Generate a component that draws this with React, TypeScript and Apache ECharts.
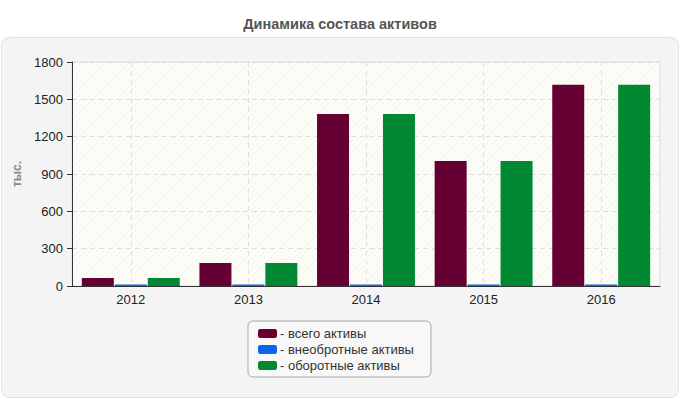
import React, { useEffect, useRef } from "react";
import * as echarts from "echarts";

const years = ["2012", "2013", "2014", "2015", "2016"];
const seriesNames = ["всего активы", "внеобротные активы", "оборотные активы"];
const totalAssets = [65, 185, 1382, 1005, 1617];
const fixedAssets = [12, 12, 12, 12, 12];
const currentAssets = [65, 185, 1382, 1005, 1617];
const colors = ["#660033", "#0a66f0", "#008833"];

function makeHatch(): string {
  const c = document.createElement("canvas");
  c.width = 6;
  c.height = 6;
  const ctx = c.getContext("2d");
  if (ctx) {
    ctx.fillStyle = "#fdfdf7";
    ctx.fillRect(0, 0, 6, 6);
    ctx.strokeStyle = "rgba(200,200,190,0.22)";
    ctx.lineWidth = 1;
    ctx.beginPath();
    ctx.moveTo(0, 6);
    ctx.lineTo(6, 0);
    ctx.moveTo(-3, 3);
    ctx.lineTo(3, -3);
    ctx.moveTo(3, 9);
    ctx.lineTo(9, 3);
    ctx.stroke();
  }
  return c.toDataURL();
}

export default function App() {
  const ref = useRef<HTMLDivElement>(null);
  useEffect(() => {
    if (!ref.current) return;
    const chart = echarts.init(ref.current, undefined, { renderer: "svg" });
    const hatch = makeHatch();
    const font = "Liberation Sans, Arial, sans-serif";
    const data = [totalAssets, fixedAssets, currentAssets];
    chart.setOption({
      animation: false,
      textStyle: { fontFamily: font },
      title: {
        text: "Динамика состава активов",
        left: "center",
        top: 11,
        textStyle: { fontSize: 14.5, fontWeight: "bold", color: "#555", fontFamily: font },
      },
      graphic: [
        {
          type: "rect",
          z: -20,
          shape: { x: 1.5, y: 37.5, width: 677, height: 360, r: 8 },
          style: { fill: "#f4f4f4", stroke: "#e2e2e2", lineWidth: 1 },
          silent: true,
        },
        {
          type: "rect",
          z: -10,
          shape: { x: 72, y: 62, width: 588, height: 224 },
          style: { fill: { image: hatch, repeat: "repeat" } as any },
          silent: true,
        },
      ],
      grid: {
        left: 72,
        right: 20,
        top: 62,
        bottom: 114,
        show: true,
        borderColor: "#dddddd",
        borderWidth: 1,
        backgroundColor: "transparent",
      },
      legend: {
        orient: "vertical",
        left: 248,
        top: 321,
        padding: [6, 17, 5, 10],
        itemGap: 3,
        itemWidth: 19,
        itemHeight: 9,
        icon: "roundRect",
        backgroundColor: "#f8f8f8",
        borderColor: "#a8a8a8",
        borderWidth: 1,
        borderRadius: 5,
        formatter: (n: string) => "- " + n,
        textStyle: { fontSize: 13, color: "#333", fontFamily: font, padding: [0, 0, 0, -2] },
        data: seriesNames,
      },
      xAxis: {
        type: "category",
        data: years,
        axisLine: { lineStyle: { color: "#333" } },
        axisTick: { alignWithLabel: true, lineStyle: { color: "#333" }, length: 5 },
        axisLabel: { color: "#222", fontSize: 13, margin: 7, fontFamily: font },
        splitLine: {
          show: true,
          alignWithLabel: true,
          lineStyle: { color: "#dddddd", type: [5, 4] },
        } as any,
      },
      yAxis: {
        type: "value",
        min: 0,
        max: 1800,
        interval: 300,
        name: "тыс.",
        nameLocation: "middle",
        nameGap: 46,
        nameTextStyle: { color: "#888", fontSize: 12, fontWeight: "bold", fontFamily: font },
        axisLine: { show: true, lineStyle: { color: "#333" } },
        axisTick: { show: true, length: 5, lineStyle: { color: "#333" } },
        axisLabel: {
          color: "#222",
          fontSize: 13,
          margin: 9,
          fontFamily: font,
          formatter: (v: number) => String(v),
        },
        splitLine: { show: true, lineStyle: { color: "#dddddd", type: [5, 4] } },
      },
      series: seriesNames.map((name, i) => ({
        name,
        type: "bar",
        data: data[i],
        barWidth: 32,
        barGap: "3%",
        itemStyle: { color: colors[i] },
      })),
    });
    return () => chart.dispose();
  }, []);
  return <div ref={ref} style={{ width: 680, height: 400, position: "absolute", left: 0, top: 0 }} />;
}
